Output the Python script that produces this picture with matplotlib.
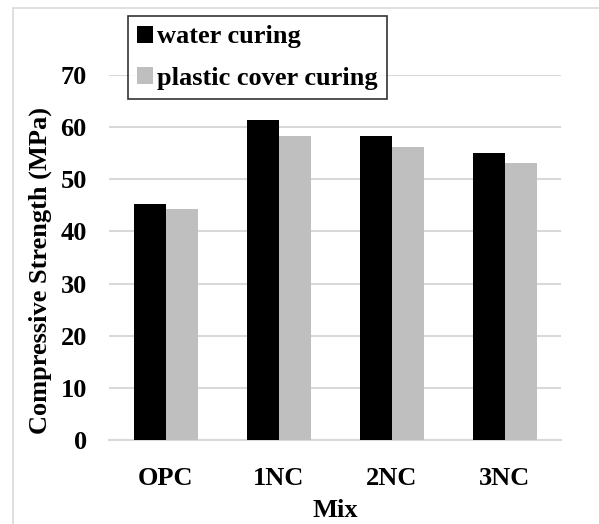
import matplotlib
matplotlib.use('Agg')
from matplotlib import pyplot as plt
import numpy as np

mixes = ['OPC', '1NC', '2NC', '3NC']
water_curing = [45.3, 61.3, 58.2, 55.0]
plastic_cover_curing = [44.3, 58.3, 56.2, 53.1]

plt.rcParams['font.family'] = ['Liberation Serif', 'DejaVu Serif']
plt.rcParams['font.weight'] = 'bold'

fig = plt.figure(figsize=(5.99, 5.24), dpi=100)
axes = fig.add_axes([0.182, 0.160, 0.755, 0.697])

x = np.arange(len(mixes))
w = 0.283
axes.bar(x - w / 2, water_curing, w, color='black', label='water curing', zorder=3)
axes.bar(x + w / 2, plastic_cover_curing, w, color='#bfbfbf', label='plastic cover curing', zorder=3)

axes.set_xlim(-0.5, 3.5)
axes.set_ylim(0, 70)
axes.set_yticks(range(0, 71, 10))
axes.set_xticks(x)
axes.set_xticklabels(mixes)
axes.tick_params(length=0, labelsize=19)
axes.tick_params(axis='y', pad=16)
axes.tick_params(axis='x', pad=19)
for lab in axes.get_xticklabels() + axes.get_yticklabels():
    lab.set_fontweight('bold')

axes.grid(axis='y', color='#d9d9d9', linewidth=1.5, zorder=0)
for s in ['top', 'right', 'left']:
    axes.spines[s].set_visible(False)
axes.spines['bottom'].set_color('#d9d9d9')
axes.spines['bottom'].set_linewidth(1.5)

axes.set_xlabel('Mix', fontsize=19, fontweight='bold', labelpad=7)
axes.set_ylabel('Compressive Strength (MPa)', fontsize=19, fontweight='bold')
axes.yaxis.set_label_coords(-0.126, 0.465)

leg = axes.legend(loc='upper left', bbox_to_anchor=(0.214, 0.969), bbox_transform=fig.transFigure,
                  fontsize=19, frameon=True, fancybox=False, handlelength=0.6, handleheight=0.6,
                  handletextpad=0.15, borderpad=0.35, labelspacing=0.7, borderaxespad=0)
leg.get_frame().set_edgecolor('black')
leg.get_frame().set_linewidth(1.2)
for t in leg.get_texts():
    t.set_fontweight('bold')

# chart border
fig.patches.append(plt.Rectangle((0.022, -0.05), 1.1, 1.035, transform=fig.transFigure,
                                 fill=False, edgecolor='#d9d9d9', linewidth=1.2))

fig.savefig('out.png', dpi=100)
